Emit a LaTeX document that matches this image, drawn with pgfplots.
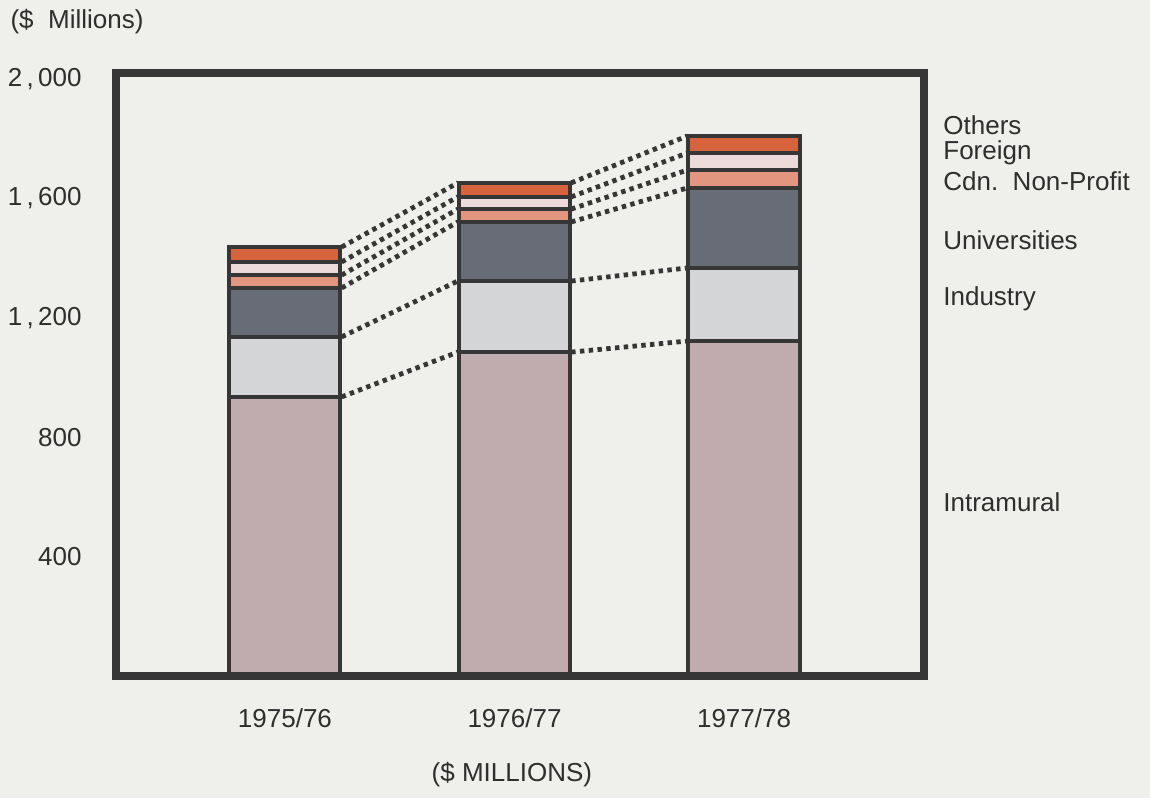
\documentclass[border=0pt]{standalone}
\usepackage{pgfplots}
\pgfplotsset{compat=1.18}
\usepackage{pgfplotstable}
\usepackage{fontspec}
\setmainfont{Liberation Sans}
\usetikzlibrary{backgrounds}
\definecolor{bgcol}{HTML}{EFEFEC}
\definecolor{boxcol}{HTML}{363636}
\definecolor{txtcol}{HTML}{2E2E2E}
\definecolor{cIntra}{HTML}{C0ACAE}
\definecolor{cIndus}{HTML}{D3D5D7}
\definecolor{cUniv}{HTML}{686C76}
\definecolor{cCdn}{HTML}{E2957F}
\definecolor{cForeign}{HTML}{EDDADA}
\definecolor{cOthers}{HTML}{D8643E}

\pgfplotstableread{
x Intramural Industry Universities Cdn Foreign Others
0 935  201 164 43 44 50
1 1085 238 198 43 41 47
2 1122 245 268 60 57 57
}\rdtable

\newcommand{\lblfont}{\fontsize{13}{15}\selectfont}

\begin{document}
\begin{tikzpicture}
\begin{axis}[
  name=main,
  scale only axis, width=404pt, height=301.5pt,
  xmin=-0.736, xmax=2.784, ymin=0, ymax=2020,
  axis on top,
  axis line style={line width=4pt, draw=boxcol},
  ybar stacked, bar width=0.484,
  xtick={0,1,2}, xticklabels={1975/76,1976/77,1977/78},
  ytick={400,800,1200,1600,2000},
  yticklabels={400,800,{1\,,\,200},{1\,,\,600},{2\,,\,000}},
  major tick length=0pt,
  tick label style={font=\lblfont, text=txtcol},
  xticklabel style={anchor=center, yshift=-21pt},
  yticklabel style={anchor=east, inner sep=0pt, xshift=-17pt},
  clip=false,
  every axis plot/.append style={draw=boxcol, line width=2pt},
]
\addplot[fill=cIntra] table[x=x, y=Intramural] {\rdtable};
\addplot[fill=cIndus] table[x=x, y=Industry] {\rdtable};
\addplot[fill=cUniv] table[x=x, y=Universities] {\rdtable};
\addplot[fill=cCdn] table[x=x, y=Cdn] {\rdtable};
\addplot[fill=cForeign] table[x=x, y=Foreign] {\rdtable};
\addplot[fill=cOthers] table[x=x, y=Others] {\rdtable};
\end{axis}
\begin{axis}[
  scale only axis, width=404pt, height=301.5pt,
  xmin=-0.736, xmax=2.784, ymin=0, ymax=2020,
  hide axis, clip=false,
  unbounded coords=jump,
]
\addplot[boxcol, line width=2.4pt, dash pattern=on 2.2pt off 2.2pt] coordinates {
 (0.247,935) (0.753,1085) (nan,nan) (1.247,1085) (1.753,1122) (nan,nan)
 (0.247,1136) (0.753,1323) (nan,nan) (1.247,1323) (1.753,1367) (nan,nan)
 (0.247,1300) (0.753,1521) (nan,nan) (1.247,1521) (1.753,1635) (nan,nan)
 (0.247,1343) (0.753,1564) (nan,nan) (1.247,1564) (1.753,1695) (nan,nan)
 (0.247,1387) (0.753,1605) (nan,nan) (1.247,1605) (1.753,1752) (nan,nan)
 (0.247,1437) (0.753,1652) (nan,nan) (1.247,1652) (1.753,1809)
};
\begin{scope}[every node/.style={font=\lblfont, text=txtcol, anchor=west, inner sep=0pt}]
\node at (axis description cs:1.0235,0.914) {Others};
\node at (axis description cs:1.0235,0.867) {Foreign};
\node at (axis description cs:1.0235,0.820) {Cdn.\ \ Non-Profit};
\node at (axis description cs:1.0235,0.723) {Universities};
\node at (axis description cs:1.0235,0.625) {Industry};
\node at (axis description cs:1.0235,0.289) {Intramural};
\node at (axis description cs:-0.131,1.085) {(\$\ \ Millions)};
\node[anchor=center] at (axis description cs:0.49,-0.164) {(\$ MILLIONS)};
\end{scope}
\end{axis}
\begin{pgfonlayer}{background}
\fill[bgcol] ([xshift=-58pt,yshift=-61pt]main.south west) rectangle ([xshift=113pt,yshift=36.5pt]main.north east);
\end{pgfonlayer}
\path ([xshift=-58pt,yshift=-61pt]main.south west) rectangle ([xshift=113pt,yshift=36.5pt]main.north east);
\end{tikzpicture}
\end{document}
